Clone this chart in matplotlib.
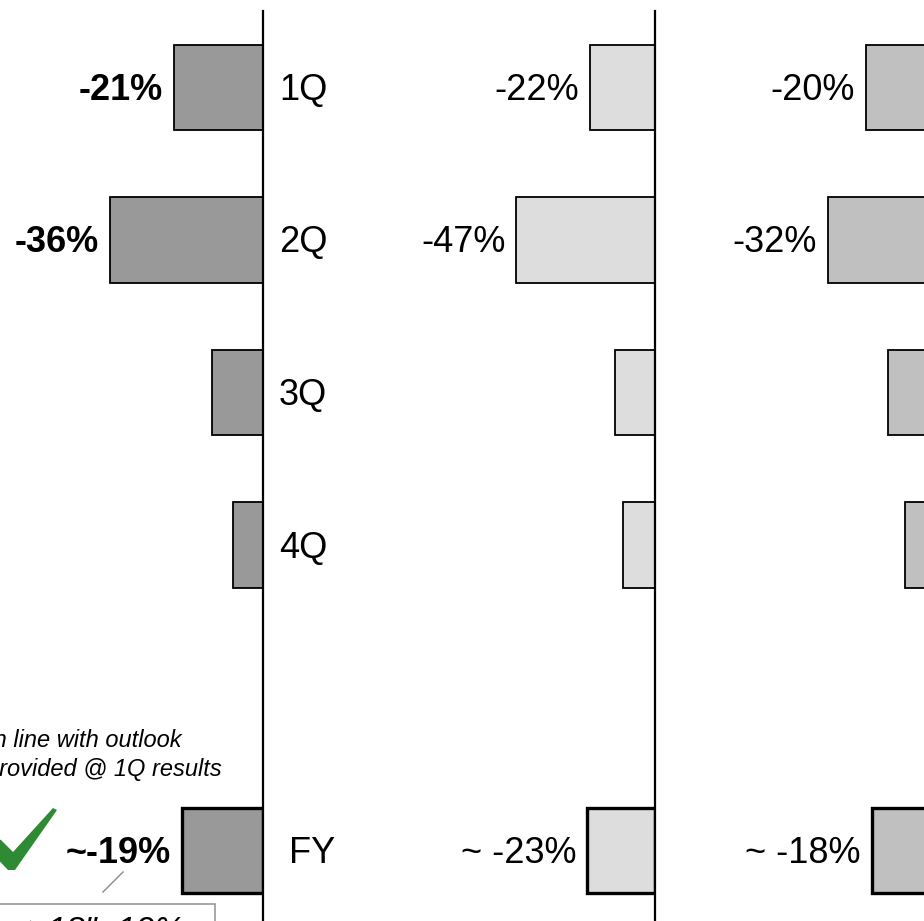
import matplotlib
matplotlib.use("Agg")
import matplotlib.pyplot as plt
from matplotlib.patches import Polygon, Rectangle

plt.rcParams['font.family'] = ['Liberation Sans', 'DejaVu Sans']

# quarterly change, three series side by side
quarters = ['1Q', '2Q', '3Q', '4Q', 'FY']
slots = [0, 1, 2, 3, 5]          # FY sits one row lower

left_vals = [-21, -36, -12, -7, -19]
left_labels = ['-21%', '-36%', None, None, '~-19%']
mid_vals = [-22, -47, -13.5, -11, -23]
mid_labels = ['-22%', '-47%', None, None, '~ -23%']
right_vals = [-20, -32, -13, -7.5, -18]
right_labels = ['-20%', '-32%', None, None, '~ -18%']

W, H = 924, 921
fig = plt.figure(figsize=(W / 100, H / 100), dpi=100)

TOP, BOTTOM, STEP = 11, 921, 152.6
FS = 26


def panel(x0, zero_px, px_per_pct, vals, labels, color, bold=False, cats=False):
    ax = fig.add_axes([x0 / W, 1 - BOTTOM / H, (zero_px - x0) / W, (BOTTOM - TOP) / H])
    ax.set_xlim(-(zero_px - x0) / px_per_pct, 0)
    ax.set_ylim(-0.5 + (BOTTOM - TOP) / STEP, -0.5)
    ax.patch.set_visible(False)
    for s in ['top', 'bottom', 'left']:
        ax.spines[s].set_visible(False)
    ax.spines['right'].set_linewidth(1.6)
    ax.set_xticks([])
    ax.set_yticks([])

    for q, y, v, lab in zip(quarters, slots, vals, labels):
        lw = 2.4 if q == 'FY' else 1.3
        ax.barh(y, v, height=0.56, color=color, edgecolor='black',
                linewidth=lw, zorder=2)
        if lab:
            ax.annotate(lab, (v, y), xytext=(-11, -3), textcoords='offset pixels',
                        ha='right', va='center', fontsize=FS,
                        fontweight='bold' if bold else 'normal',
                        annotation_clip=False)
        if cats:
            ax.annotate(q, (0, y), xytext=(16 if q != 'FY' else 26, -3),
                        textcoords='offset pixels', ha='left', va='center',
                        fontsize=FS, annotation_clip=False)
    return ax


panel(0, 263, 4.25, left_vals, left_labels, '#999999', bold=True, cats=True)
panel(400, 655, 2.95, mid_vals, mid_labels, '#dddddd')
panel(780, 929, 3.17, right_vals, right_labels, '#c0c0c0')

# callout layer in pixel units
ov = fig.add_axes([0, 0, 1, 1])
ov.set_xlim(0, W)
ov.set_ylim(H, 0)
ov.axis('off')
ov.patch.set_visible(False)

ov.text(-13, 747, 'In line with outlook', fontsize=17, style='italic',
        ha='left', va='baseline')
ov.text(-13, 776, 'provided @ 1Q results', fontsize=17, style='italic',
        ha='left', va='baseline')

check = Polygon([(-9, 836), (1, 840), (13, 852), (53, 808), (57, 810),
                 (15, 870), (8, 870), (-9, 852)],
                closed=True, facecolor='#2e8b34', edgecolor='none')
ov.add_patch(check)

ov.plot([103, 123], [892, 872], color='#888888', lw=1)

ov.add_patch(Rectangle((-5, 904), 220, 40, facecolor='white',
                       edgecolor='#999999', lw=1.2))
ov.text(28, 940, '>18" -12%', fontsize=24, style='italic',
        ha='left', va='baseline')

fig.savefig('out.png', dpi=100)
